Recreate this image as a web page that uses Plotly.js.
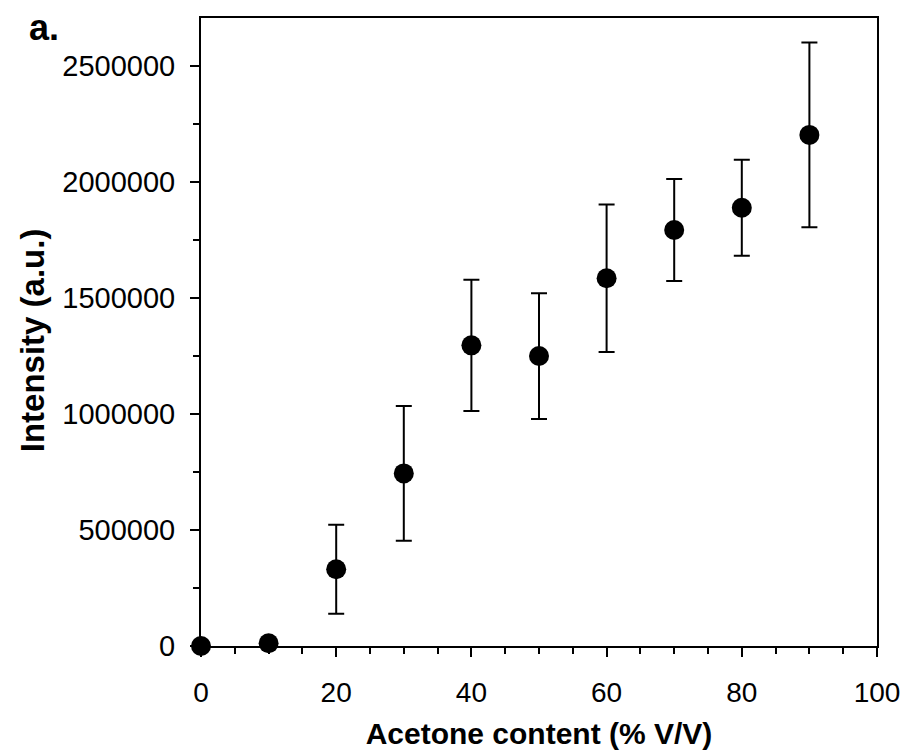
<!DOCTYPE html>
<html>
<head>
<meta charset="utf-8">
<script src="https://cdn.plot.ly/plotly-3.0.1.min.js"></script>
<style>html,body{margin:0;padding:0;background:#fff;}#chart{width:908px;height:755px;}</style>
</head>
<body>
<div id="chart"></div>
<script>
const acetone = [0, 10, 20, 30, 40, 50, 60, 70, 80, 90];
const intensity = [0, 12000, 331000, 744000, 1296000, 1250000, 1585000, 1793000, 1889000, 2203000];
const errorBars = [0, 0, 192000, 290000, 283000, 271000, 318000, 220000, 207000, 398000];
const xTicks = [0, 20, 40, 60, 80, 100];
const yTicks = [0, 500000, 1000000, 1500000, 2000000, 2500000];

const trace = {
  x: acetone, y: intensity, type: 'scatter', mode: 'markers',
  marker: {color: '#000', size: 20},
  error_y: {type: 'data', array: errorBars, visible: true, color: '#000', thickness: 2, width: 8},
  cliponaxis: false, showlegend: false
};

const fam = 'Liberation Sans, Arial, sans-serif';
const layout = {
  width: 908, height: 755,
  margin: {l: 201, r: 31, t: 18, b: 109},
  paper_bgcolor: '#fff', plot_bgcolor: '#fff',
  font: {family: fam, color: '#000'},
  xaxis: {
    range: [0, 100], tickvals: xTicks, ticktext: xTicks.map(String),
    showgrid: false, zeroline: false, showline: true, mirror: true, linecolor: '#000', linewidth: 2,
    ticks: 'outside', ticklen: 9, tickwidth: 2, tickcolor: '#000',
    tickfont: {size: 28, family: fam, color: '#000'}, ticklabelstandoff: 11,
    minor: {dtick: 5, ticks: 'outside', ticklen: 6, tickwidth: 2, tickcolor: '#000', showgrid: false},
    title: {text: '<b>Acetone content (% V/V)</b>', font: {size: 30, family: fam, color: '#000'}, standoff: 16}
  },
  yaxis: {
    range: [0, 2707000], tickvals: yTicks, ticktext: yTicks.map(String),
    showgrid: false, zeroline: false, showline: true, mirror: true, linecolor: '#000', linewidth: 2,
    ticks: 'outside', ticklen: 9, tickwidth: 2, tickcolor: '#000',
    tickfont: {size: 29, family: fam, color: '#000'}, ticklabelstandoff: 9,
    minor: {dtick: 250000, ticks: 'outside', ticklen: 6, tickwidth: 2, tickcolor: '#000', showgrid: false}
  },
  annotations: [{
    text: '<b>a.</b>', xref: 'paper', yref: 'paper', x: -0.257, y: 1.02,
    xanchor: 'left', yanchor: 'top', showarrow: false,
    font: {size: 36, family: fam, color: '#000'}
  }, {
    text: '<b>Intensity (a.u.)</b>', xref: 'paper', yref: 'paper',
    x: (32 - 201) / 677, y: (646 - 340) / 628, xanchor: 'center', yanchor: 'middle',
    textangle: -90, showarrow: false,
    font: {size: 33, family: fam, color: '#000'}
  }]
};
Plotly.newPlot('chart', [trace], layout, {displayModeBar: false, staticPlot: true});
</script>
</body>
</html>
